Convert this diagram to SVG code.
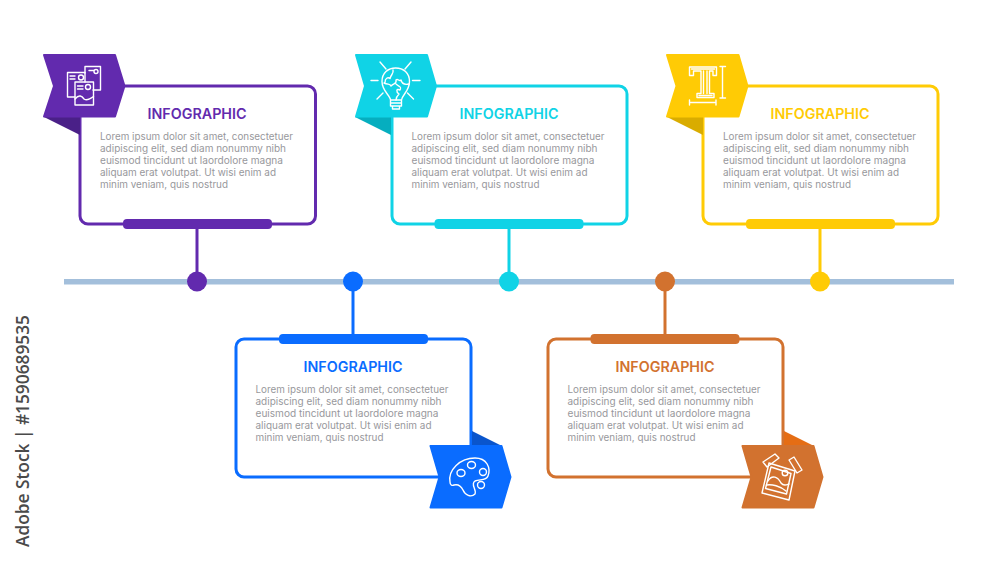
<svg xmlns="http://www.w3.org/2000/svg" width="1000" height="563" viewBox="0 0 1000 563">
<defs>
<style>
.box{fill:#fff;stroke-width:3}
.ico{fill:none;stroke:#fff;stroke-width:1.4;stroke-linejoin:round;stroke-linecap:round}
.h{font-family:Inter,"Liberation Sans",sans-serif;font-weight:600;font-size:14px;text-anchor:middle}
.b{font-family:Inter,"Liberation Sans",sans-serif;font-size:10px;fill:#98989c}
.wm{font-family:"Open Sans","Liberation Sans",sans-serif;font-size:17.5px;font-weight:600;fill:#4a4a4a}
.p1{fill:#622aae;stroke:#622aae}.c1{stroke:#622aae}.t1{fill:#622aae}
.p2{fill:#10d3e6;stroke:#10d3e6}.c2{stroke:#10d3e6}.t2{fill:#10d3e6}
.p3{fill:#ffcb05;stroke:#ffcb05}.c3{stroke:#ffcb05}.t3{fill:#ffcb05}
.p4{fill:#0a6cff;stroke:#0a6cff}.c4{stroke:#0a6cff}.t4{fill:#0a6cff}
.p5{fill:#d2722f;stroke:#d2722f}.c5{stroke:#d2722f}.t5{fill:#d2722f}
.flag{stroke-width:2;stroke-linejoin:round}
</style>
</defs>
<g id="connectors">
<rect x="64" y="279" width="890" height="5.5" fill="#a3bfdb"/>
<path class="c1" d="M197 225V281" stroke-width="3" fill="none"/>
<path class="c4" d="M353 281V338" stroke-width="3" fill="none"/>
<path class="c2" d="M509 225V281" stroke-width="3" fill="none"/>
<path class="c5" d="M665 281V338" stroke-width="3" fill="none"/>
<path class="c3" d="M820 225V281" stroke-width="3" fill="none"/>
<circle cx="197" cy="281.500" r="10" class="t1"/>
<circle cx="353" cy="281.500" r="10" class="t4"/>
<circle cx="509" cy="281.500" r="10" class="t2"/>
<circle cx="665" cy="281.500" r="10" class="t5"/>
<circle cx="820" cy="281.500" r="10" class="t3"/>
</g>
<g id="node1">
<rect class="box c1" x="80" y="86" width="235.500" height="138" rx="8"/>
<rect x="123" y="219" width="149" height="10" rx="4" class="t1"/>
<path d="M44 117L80 117V135Z" fill="#4a2088"/>
<path class="flag p1" d="M44 55H115L124.500 86L115 116.500H44L54 86Z"/>
<g class="ico">
<path d="M85 73V66.500H100.500V90H93M89 70.500H94"/><circle cx="96" cy="71.500" r="2"/>
<path d="M75 97H67.500V72.500H85V82M70 76H75M70 79H75"/><circle cx="81" cy="77.500" r="2.500"/>
<rect x="75" y="82" width="18.500" height="23"/><path d="M77.500 86H83M77.500 89H83M75 99C79 94 82 96 84 99C87 101 90 99 93.500 96.500"/><circle cx="88" cy="87" r="2.500"/>
</g>
<text class="h t1" x="197" y="119" textLength="99" lengthAdjust="spacingAndGlyphs">INFOGRAPHIC</text>
<text class="b"><tspan x="100" y="140" textLength="193" lengthAdjust="spacingAndGlyphs">Lorem ipsum dolor sit amet, consectetuer</tspan><tspan x="100" y="152" textLength="186" lengthAdjust="spacingAndGlyphs">adipiscing elit, sed diam nonummy nibh</tspan><tspan x="100" y="164" textLength="183" lengthAdjust="spacingAndGlyphs">euismod tincidunt ut laordolore magna</tspan><tspan x="100" y="176" textLength="176" lengthAdjust="spacingAndGlyphs">aliquam erat volutpat. Ut wisi enim ad</tspan><tspan x="100" y="188" textLength="128" lengthAdjust="spacingAndGlyphs">minim veniam, quis nostrud</tspan></text>
</g>
<g id="node2">
<rect class="box c2" x="392" y="86" width="235" height="138" rx="8"/>
<rect x="434.500" y="219" width="149" height="10" rx="4" class="t2"/>
<path d="M355 117L391 117V135Z" fill="#06aebf"/>
<path class="flag p2" d="M356 55H427L436 86L427 116.500H356L365 86Z"/>
<g class="ico">
<path d="M390.500 100C390 95 382 91 382 81.500C382 73 388 68 395.700 68C403.500 68 409.500 73 409.500 81.500C409.500 91 402 95 401.500 100ZM390.500 100V106H401.500V100M392.500 106V109H399.500V106M390.500 103H401.500"/>
<path d="M385 82.500C385 78 388 77 390 78.500C391 74 394 74 393 70M384 83C388 85 390 83 391 86C394 83 397 84 396 80C398 78 399 82 401 80C402 84 405 85 409 84M396 84C399 87 402 86 400 90C396 88 396 92 399 94C397 96 396 97 396 100"/>
<path d="M371 80.500H378M412.500 80.500H420M380 62L386 69M411 62L405 69M377 99L383 93M413.500 99L407.500 93"/>
</g>
<text class="h t2" x="509" y="119" textLength="99" lengthAdjust="spacingAndGlyphs">INFOGRAPHIC</text>
<text class="b"><tspan x="411.500" y="140" textLength="193" lengthAdjust="spacingAndGlyphs">Lorem ipsum dolor sit amet, consectetuer</tspan><tspan x="411.500" y="152" textLength="186" lengthAdjust="spacingAndGlyphs">adipiscing elit, sed diam nonummy nibh</tspan><tspan x="411.500" y="164" textLength="183" lengthAdjust="spacingAndGlyphs">euismod tincidunt ut laordolore magna</tspan><tspan x="411.500" y="176" textLength="176" lengthAdjust="spacingAndGlyphs">aliquam erat volutpat. Ut wisi enim ad</tspan><tspan x="411.500" y="188" textLength="128" lengthAdjust="spacingAndGlyphs">minim veniam, quis nostrud</tspan></text>
</g>
<g id="node3">
<rect class="box c3" x="703" y="86" width="235" height="138" rx="8"/>
<rect x="746" y="219" width="149" height="10" rx="4" class="t3"/>
<path d="M667 117L703 117V135Z" fill="#d9ac00"/>
<path class="flag p3" d="M667 55H738.500L747.500 86L738.500 116.500H667L676.500 86Z"/>
<g class="ico">
<path d="M689.500 67H716.500V75.500H713V71H709.500V93.500H714V97.500H697V93.500H701V71H693.500V75.500H689.500Z"/>
<path d="M691.500 69H714.500M703.500 71V93.500M707 71V93.500M699 95.500H712"/>
<path d="M722.500 66.500V98M720 66.500H725.500M720 98H725.500M689.500 102.500H716M689.500 100V105M716 100V105"/>
</g>
<text class="h t3" x="820" y="119" textLength="99" lengthAdjust="spacingAndGlyphs">INFOGRAPHIC</text>
<text class="b"><tspan x="723" y="140" textLength="193" lengthAdjust="spacingAndGlyphs">Lorem ipsum dolor sit amet, consectetuer</tspan><tspan x="723" y="152" textLength="186" lengthAdjust="spacingAndGlyphs">adipiscing elit, sed diam nonummy nibh</tspan><tspan x="723" y="164" textLength="183" lengthAdjust="spacingAndGlyphs">euismod tincidunt ut laordolore magna</tspan><tspan x="723" y="176" textLength="176" lengthAdjust="spacingAndGlyphs">aliquam erat volutpat. Ut wisi enim ad</tspan><tspan x="723" y="188" textLength="128" lengthAdjust="spacingAndGlyphs">minim veniam, quis nostrud</tspan></text>
</g>
<g id="node4">
<rect class="box c4" x="236" y="339" width="235" height="138" rx="8"/>
<rect x="279" y="334" width="149" height="10" rx="4" class="t4"/>
<path d="M472 431L502 446H472Z" fill="#0a55cc"/>
<path class="flag p4" d="M430.500 446H501.500L510.500 477L501.500 507.500H430.500L439.500 477Z"/>
<g class="ico">
<path d="M450 482C448 470 460 458 475 458C487 458 491 468 488 476C486 481 480 479 475 481C470 484 477 490 475 494C471 498 465 495 463 490C461 486 458 484 454 485C452 486 450 485 450 482Z"/>
<ellipse cx="461" cy="473" rx="4" ry="3.500"/><ellipse cx="471.500" cy="465" rx="4" ry="3.500"/><ellipse cx="483" cy="472" rx="3.500" ry="3.500"/><ellipse cx="481" cy="485" rx="3.500" ry="3.500"/>
</g>
<text class="h t4" x="353" y="372" textLength="99" lengthAdjust="spacingAndGlyphs">INFOGRAPHIC</text>
<text class="b"><tspan x="255.500" y="393" textLength="193" lengthAdjust="spacingAndGlyphs">Lorem ipsum dolor sit amet, consectetuer</tspan><tspan x="255.500" y="405" textLength="186" lengthAdjust="spacingAndGlyphs">adipiscing elit, sed diam nonummy nibh</tspan><tspan x="255.500" y="417" textLength="183" lengthAdjust="spacingAndGlyphs">euismod tincidunt ut laordolore magna</tspan><tspan x="255.500" y="429" textLength="176" lengthAdjust="spacingAndGlyphs">aliquam erat volutpat. Ut wisi enim ad</tspan><tspan x="255.500" y="441" textLength="128" lengthAdjust="spacingAndGlyphs">minim veniam, quis nostrud</tspan></text>
</g>
<g id="node5">
<rect class="box c5" x="548" y="339" width="235" height="138" rx="8"/>
<rect x="590.500" y="334" width="149" height="10" rx="4" class="t5"/>
<path d="M784 431L814 446H784Z" fill="#e56d14"/>
<path class="flag p5" d="M742.500 446H813.500L822.500 477L813.500 507.500H742.500L751.500 477Z"/>
<g class="ico">
<path d="M769 463L795 471L789 500L762 493Z"/>
<path d="M771 467L791 473.500L786.500 494L765.500 488.500Z"/>
<path d="M763 462L775 454L779 458L767 467ZM789 460L794 457L802 470L797 473Z"/>
<path d="M768 481C772 474 778 477 781 483C784 487 788 484 789 484M766.500 485C772 484 780 486 786 491"/>
<circle cx="785" cy="473" r="2.800"/>
</g>
<text class="h t5" x="665" y="372" textLength="99" lengthAdjust="spacingAndGlyphs">INFOGRAPHIC</text>
<text class="b"><tspan x="567.500" y="393" textLength="193" lengthAdjust="spacingAndGlyphs">Lorem ipsum dolor sit amet, consectetuer</tspan><tspan x="567.500" y="405" textLength="186" lengthAdjust="spacingAndGlyphs">adipiscing elit, sed diam nonummy nibh</tspan><tspan x="567.500" y="417" textLength="183" lengthAdjust="spacingAndGlyphs">euismod tincidunt ut laordolore magna</tspan><tspan x="567.500" y="429" textLength="176" lengthAdjust="spacingAndGlyphs">aliquam erat volutpat. Ut wisi enim ad</tspan><tspan x="567.500" y="441" textLength="128" lengthAdjust="spacingAndGlyphs">minim veniam, quis nostrud</tspan></text>
</g>
<text class="wm" transform="translate(29 547) rotate(-90)" textLength="232" lengthAdjust="spacingAndGlyphs">Adobe Stock | #1590689535</text>
</svg>
